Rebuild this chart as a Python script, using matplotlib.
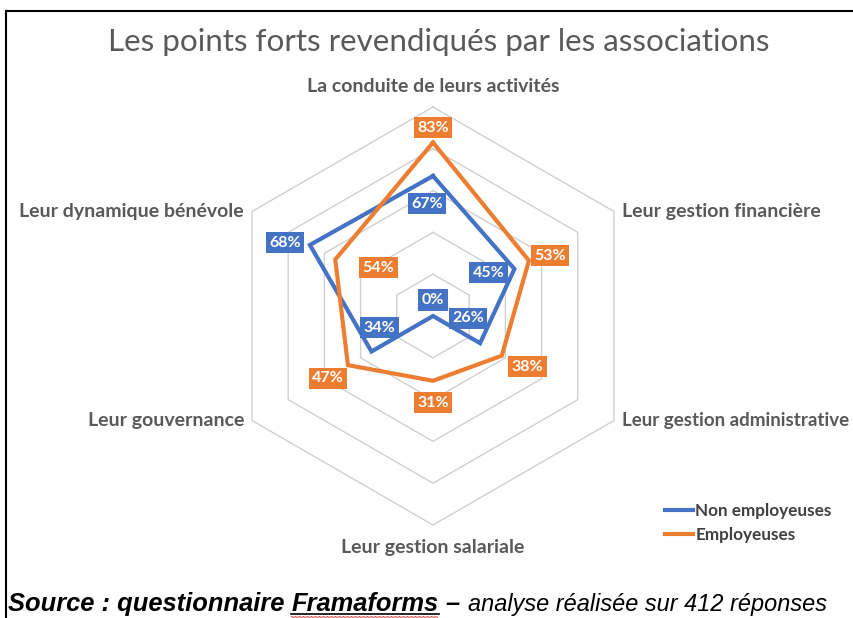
import numpy as np
import matplotlib.pyplot as plt
from matplotlib.lines import Line2D

# -----------------------
# DONNÉES
# -----------------------
categories = ["La conduite de leurs activités", "Leur gestion financière",
              "Leur gestion administrative", "Leur gestion salariale",
              "Leur gouvernance", "Leur dynamique bénévole"]
non_employeuses = [0.67, 0.45, 0.26, 0.00, 0.34, 0.68]
employeuses = [0.83, 0.53, 0.38, 0.31, 0.47, 0.54]
series_names = ["Non employeuses", "Employeuses"]
grid_levels = [0.2, 0.4, 0.6, 0.8, 1.0]

BLUE = "#4472C4"
ORANGE = "#ED7D31"
GREY = "#595959"

# décalage des étiquettes (pixels)
off_blue = [(-6, -28), (-26, -4), (-12, 25), (0, 16), (8, 24), (-25, 2)]
off_orange = [(0, 15), (21, 5), (26, -11), (0, -22), (-20, -13), (43, -8)]

plt.rcParams['font.family'] = ['Lato', 'DejaVu Sans']

W, H = 854, 618
fig = plt.figure(figsize=(W / 100, H / 100), dpi=100)
ax = fig.add_axes([0, 0, 1, 1])
R = 209.0          # rayon en pixels
cx, cy = 433, 316  # centre en pixels (depuis le haut)
ax.set_xlim(-cx / R, (W - cx) / R)
ax.set_ylim(-(H - cy) / R, cy / R)
ax.axis('off')

n = len(categories)
theta = np.arange(n) * 2 * np.pi / n


def xy(vals):
    v = np.asarray(vals, dtype=float)
    x = v * np.sin(theta)
    y = v * np.cos(theta)
    return np.append(x, x[0]), np.append(y, y[0])


# grille hexagonale
for lev in grid_levels:
    gx, gy = xy([lev] * n)
    ax.plot(gx, gy, color="#D0D0D0", lw=1.0, zorder=1)

# séries
for vals, col, offs, name in [(non_employeuses, BLUE, off_blue, series_names[0]),
                              (employeuses, ORANGE, off_orange, series_names[1])]:
    px, py = xy(vals)
    ax.plot(px, py, color=col, lw=3.0, solid_joinstyle='miter', zorder=3, label=name)
    for k in range(n):
        ax.annotate(f"{round(vals[k] * 100)}%", (px[k], py[k]), xytext=offs[k],
                    textcoords='offset pixels', ha='center', va='center',
                    color='white', fontsize=11.5, fontweight='bold', zorder=5,
                    bbox=dict(boxstyle='square,pad=0.22', fc=col, ec='none'))

# libellés des axes
lab_pos = [(0, 21, 'center'), (8, 0, 'left'), (8, 0, 'left'),
           (0, -23, 'center'), (-8, 0, 'right'), (-8, 0, 'right')]
lab_size = [14, 14, 13.5, 14, 14, 14]
for k, cat in enumerate(categories):
    dx, dy, ha = lab_pos[k]
    ax.annotate(cat, (np.sin(theta[k]), np.cos(theta[k])), xytext=(dx, dy),
                textcoords='offset pixels', ha=ha, va='center',
                color=GREY, fontsize=lab_size[k], fontweight='bold',
                annotation_clip=False)

# titre
fig.text(439 / W, 1 - 42 / H, "Les points forts revendiqués par les associations",
         ha='center', va='center', fontsize=22.6, color=GREY)

# légende
leg = ax.legend(loc='upper left', bbox_to_anchor=(650 / W, 1 - 488 / H),
                bbox_transform=fig.transFigure, frameon=False,
                handlelength=1.6, handletextpad=0.15, labelspacing=0.45,
                prop={'size': 12.3, 'weight': 'bold'})
for t in leg.get_texts():
    t.set_color("#404040")

# cadre
fig.add_artist(Line2D([6 / W, 6 / W], [0, 1 - 11 / H], color='black', lw=1.5))
fig.add_artist(Line2D([6 / W, 1], [1 - 11 / H, 1 - 11 / H], color='black', lw=1.5))

# source
fig.canvas.draw()
rend = fig.canvas.get_renderer()
src_bold = dict(fontsize=18.4, fontweight='bold', fontstyle='italic',
                family='Liberation Sans', color='black')
src_reg = dict(fontsize=16.9, fontstyle='italic', family='Liberation Sans', color='black')


def width_px(s, kw):
    t = fig.text(0, 0, s, **kw)
    w = t.get_window_extent(rend).width
    t.remove()
    return w


space = width_px("a a", src_bold) - width_px("aa", src_bold)
y_base = 1 - 611 / H
x = 8
pieces = ["Source : questionnaire", "Framaforms", "\u2013"]
for i, s in enumerate(pieces):
    t = fig.text(x / W, y_base, s, ha='left', va='baseline', **src_bold)
    w = t.get_window_extent(rend).width
    if s == "Framaforms":
        fig.add_artist(Line2D([x / W, (x + w) / W], [1 - 614 / H] * 2,
                              color='black', lw=1.2))
        sx = np.arange(x, x + w, 2.0)
        sy = 1 - (616.5 + 1.0 * (np.arange(len(sx)) % 2)) / H
        fig.add_artist(Line2D(sx / W, sy, color='#E04040', lw=0.7))
    x += w + space
fig.text((x + 1) / W, y_base, "analyse réalisée sur 412 réponses",
         ha='left', va='baseline', **src_reg)

fig.savefig("out.png", dpi=100)
